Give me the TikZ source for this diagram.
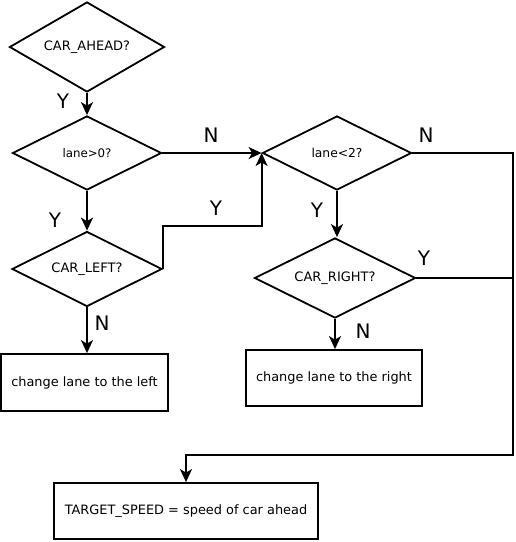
\documentclass[tikz,border=0pt]{standalone}
\usepackage{fontspec}
\setmainfont{DejaVu Sans}
\usetikzlibrary{shapes.geometric,arrows.meta}
\begin{document}
\begin{tikzpicture}[x=1pt,y=-1pt,
  every path/.style={line width=1.8pt},
  dec/.style={draw,diamond,aspect=2,inner sep=0pt,font=\fontsize{13}{15}\selectfont},
  procbox/.style={draw,rectangle,inner sep=0pt,font=\fontsize{12.9}{15}\selectfont},
  lbl/.style={font=\fontsize{20}{23}\selectfont,inner sep=0pt},
  arr/.style={-{Stealth[length=13pt,width=12pt,inset=3.5pt]}},
  line join=miter]
\useasboundingbox (0,0) rectangle (516,542);
\node[dec,minimum width=155pt,minimum height=90pt] (d1) at (87,47) {CAR\_AHEAD?};
\node[dec,minimum width=149pt,minimum height=74pt,font=\fontsize{11.8}{13}\selectfont] (d2) at (87,153) {lane>0?};
\node[dec,minimum width=149pt,minimum height=74pt,font=\fontsize{12.3}{13}\selectfont] (d3) at (337,153) {lane<2?};
\node[dec,minimum width=161pt,minimum height=80pt] (d4) at (335,278) {CAR\_RIGHT?};
\node[dec,minimum width=150pt,minimum height=75pt] (d5) at (87,269) {CAR\_LEFT?};
\node[procbox,minimum width=167pt,minimum height=57pt] (b1) at (84.5,382.5) {change lane to the left};
\node[procbox,minimum width=176pt,minimum height=56pt] (b2) at (334,378) {change lane to the right};
\node[procbox,minimum width=264pt,minimum height=56pt] (b3) at (186,511) {TARGET\_SPEED = speed of car ahead};
\coordinate (c1) at (513,153);
\coordinate (c2) at (513,455);
\coordinate (c3) at (186,455);
\coordinate (c4) at (513,278);
\coordinate (c5) at (d5.east |- 0,226);
\coordinate (c6) at (d3.west |- 0,226);
\draw[arr] (d1.south) -- (d2.north);
\draw[arr] (d2.south) -- (d5.north);
\draw[arr] (d2.east) -- (d3.west);
\draw[arr] (d3.south) -- (d3.south |- d4.north);
\draw[arr] (d5.south) -- (d5.south |- b1.north);
\draw[arr] (d4.south) -- (d4.south |- b2.north);
\draw[arr] (d3.east) -- (c1) -- (c2) -- (c3) -- (b3.north);
\draw (d4.east) -- (c4);
\draw[arr] (d5.east) -- (c5) -- (c6) -- (d3.west);
\node[lbl] (y1) at (63,101) {Y};
\node[lbl] (y2) at (55,220) {Y};
\node[lbl] (y3) at (317,210) {Y};
\node[lbl] (y4) at (424,258) {Y};
\node[lbl] (y5) at (216,208) {Y};
\node[lbl] (n1) at (211,135) {N};
\node[lbl] (n2) at (426,135) {N};
\node[lbl] (n3) at (102,323) {N};
\node[lbl] (n4) at (363,331) {N};
\end{tikzpicture}
\end{document}
